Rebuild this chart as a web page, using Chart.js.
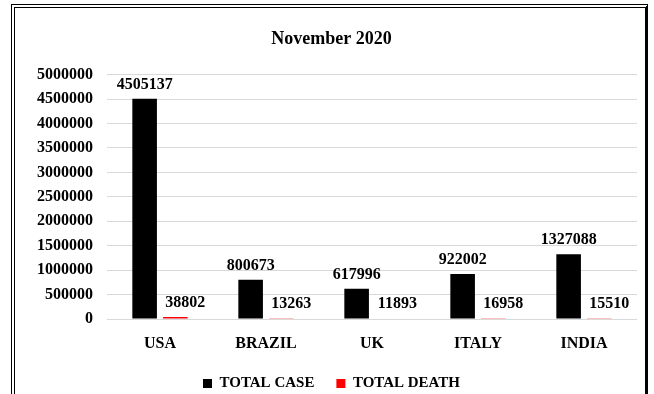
<!DOCTYPE html>
<html>
<head>
<meta charset="utf-8">
<script src="https://cdn.jsdelivr.net/npm/chart.js@4.4.0/dist/chart.umd.min.js"></script>
<style>
  html, body { margin: 0; padding: 0; background: #fff; }
  #wrap { position: relative; width: 654px; height: 394px; overflow: hidden; }
  #frame {
    position: absolute; left: 11px; top: 4px; width: 630px; height: 420px;
    border-left: 4px double #000; border-top: 4px double #000;
    border-right: 3px solid #000;
  }
  canvas { position: absolute; left: 0; top: 0; }
</style>
</head>
<body>
<div id="wrap">
  <div id="frame"></div>
  <canvas id="chart" width="654" height="394"></canvas>
</div>
<script>
// データ
const countries = ['USA', 'BRAZIL', 'UK', 'ITALY', 'INDIA'];
const totalCase = [4505137, 800673, 617996, 922002, 1327088];
const totalDeath = [38802, 13263, 11893, 16958, 15510];
const yTicks = [0, 500000, 1000000, 1500000, 2000000, 2500000, 3000000, 3500000, 4000000, 4500000, 5000000];

const serif = '"Liberation Serif", "Times New Roman", serif';

// 棒の上に数値を描く（死亡数のラベルは少し右にずらす）
const valueLabels = {
  id: 'valueLabels',
  afterDatasetsDraw(chart) {
    const ctx = chart.ctx;
    ctx.save();
    ctx.font = 'bold 16px ' + serif;
    ctx.fillStyle = '#000';
    ctx.textAlign = 'center';
    ctx.textBaseline = 'alphabetic';
    chart.data.datasets.forEach((ds, i) => {
      const dx = i === 1 ? 10 : 0;
      chart.getDatasetMeta(i).data.forEach((bar, j) => {
        ctx.fillText(String(ds.data[j]), bar.x + dx, bar.y - 10);
      });
    });
    ctx.restore();
  }
};

// タイトルと凡例を少し右へ（元の図の中央に合わせる）
const shiftBoxes = {
  id: 'shiftBoxes',
  afterLayout(chart) {
    [chart.titleBlock, chart.legend].forEach((box) => {
      if (box) { box.left += 13; box.right += 13; }
    });
  }
};

new Chart(document.getElementById('chart'), {
  type: 'bar',
  data: {
    labels: countries,
    datasets: [
      { label: 'TOTAL CASE', data: totalCase, backgroundColor: '#000000',
        barPercentage: 0.8, categoryPercentage: 0.58 },
      { label: 'TOTAL DEATH', data: totalDeath, backgroundColor: '#ff0000',
        barPercentage: 0.8, categoryPercentage: 0.58 }
    ]
  },
  options: {
    responsive: false,
    animation: false,
    layout: { padding: { top: 0, right: 17, bottom: -7, left: 0 } },
    scales: {
      x: {
        grid: { display: false },
        border: { display: false },
        afterFit: (scale) => { scale.height = 35; },
        ticks: { color: '#000', font: { family: serif, size: 16, weight: 'bold' }, padding: 7 }
      },
      y: {
        min: 0,
        max: 5000000,
        afterBuildTicks: (scale) => { scale.ticks = yTicks.map((v) => ({ value: v })); },
        afterFit: (scale) => { scale.width = 107; },
        grid: { color: '#d9d9d9', drawTicks: false },
        border: { display: false },
        ticks: {
          color: '#000',
          font: { family: serif, size: 16, weight: 'bold' },
          padding: 14,
          callback: (v) => String(v)
        }
      }
    },
    plugins: {
      title: {
        display: true,
        text: 'November 2020',
        color: '#000',
        font: { family: serif, size: 18, weight: 'bold' },
        padding: { top: 29, bottom: 24 }
      },
      legend: {
        position: 'bottom',
        labels: {
          color: '#000',
          boxWidth: 9,
          boxHeight: 9,
          padding: 22,
          font: { family: serif, size: 15, weight: 'bold' }
        }
      },
      tooltip: { enabled: false }
    }
  },
  plugins: [valueLabels, shiftBoxes]
});
</script>
</body>
</html>
